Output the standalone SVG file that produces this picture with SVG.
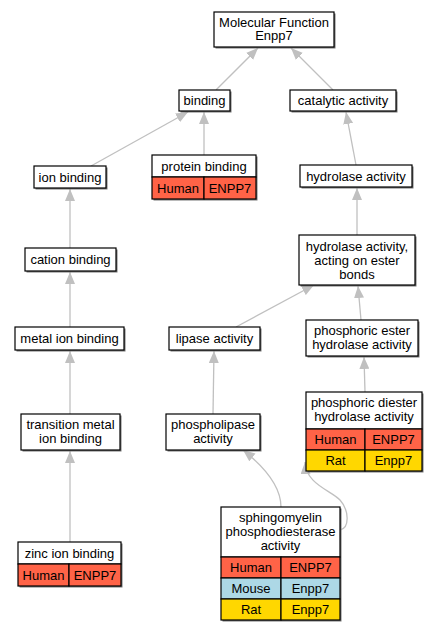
<svg xmlns="http://www.w3.org/2000/svg" width="437" height="632" viewBox="0 0 437 632">
<style>
text{font-family:"Liberation Sans",Arial,sans-serif;font-size:13px;fill:#000;text-anchor:middle}
.b{fill:#fff;stroke:#000;stroke-width:1.2}
.s{fill:#777;stroke:none}
.h{fill:#ff6347;stroke:#000;stroke-width:1.2}
.m{fill:#add8e6;stroke:#000;stroke-width:1.2}
.r{fill:#ffd700;stroke:#000;stroke-width:1.2}
.e{fill:none;stroke:#c0c0c0;stroke-width:1.3;marker-end:url(#a)}
</style>
<defs>
<marker id="a" viewBox="0 0 12 10" refX="12" refY="5" markerWidth="12" markerHeight="10" markerUnits="userSpaceOnUse" orient="auto"><path d="M0,0 L12,5 L0,10 z" fill="#c0c0c0"/></marker>
</defs>
<g id="edges">
<path class="e" d="M216,90 L258,48"/>
<path class="e" d="M333,90 L291,48"/>
<path class="e" d="M91,166 L188,112"/>
<path class="e" d="M204,155 L204,112"/>
<path class="e" d="M356,165 L346,112"/>
<path class="e" d="M70,248 L70,189"/>
<path class="e" d="M70,327 L70,272"/>
<path class="e" d="M70,414 L70,351"/>
<path class="e" d="M70,542 L70,451"/>
<path class="e" d="M357,235 L357,188"/>
<path class="e" d="M236,327 L314,285"/>
<path class="e" d="M361,320 L358,286"/>
<path class="e" d="M365,392 L364,357"/>
<path class="e" d="M213,414 L214,351"/>
<path class="e" d="M281,507 C281,485 262,465 243,450"/>
<path class="e" d="M340,530 C350,528 349,510 340,500 C330,490 306,484 305,462"/>
</g>
<g id="mf">
<rect class="s" x="215.5" y="13.5" width="120" height="35"/>
<rect class="b" x="214" y="12" width="120" height="35"/>
<text x="274" y="27">Molecular Function</text>
<text x="274" y="40">Enpp7</text>
</g>
<g id="binding">
<rect class="s" x="180.5" y="91.5" width="51" height="21"/>
<rect class="b" x="179" y="90" width="51" height="21"/>
<text x="204.5" y="105">binding</text>
</g>
<g id="catalytic">
<rect class="s" x="291.5" y="91.5" width="106" height="21"/>
<rect class="b" x="290" y="90" width="106" height="21"/>
<text x="343" y="105">catalytic activity</text>
</g>
<g id="ion">
<rect class="s" x="35.5" y="167.5" width="72" height="22"/>
<rect class="b" x="34" y="166" width="72" height="22"/>
<text x="70" y="181.5">ion binding</text>
</g>
<g id="protein">
<rect class="s" x="153.5" y="156.5" width="104" height="44"/>
<rect class="b" x="152" y="155" width="104" height="22"/>
<text x="204" y="170.5">protein binding</text>
<rect class="h" x="152" y="177" width="52" height="22"/>
<rect class="h" x="204" y="177" width="52" height="22"/>
<text x="178" y="192.5">Human</text>
<text x="230" y="192.5">ENPP7</text>
</g>
<g id="hydrolase">
<rect class="s" x="301.5" y="166.5" width="112" height="22"/>
<rect class="b" x="300" y="165" width="112" height="22"/>
<text x="356" y="180.5">hydrolase activity</text>
</g>
<g id="cation">
<rect class="s" x="26.5" y="249.5" width="91" height="23"/>
<rect class="b" x="25" y="248" width="91" height="23"/>
<text x="70.5" y="264">cation binding</text>
</g>
<g id="hydroester">
<rect class="s" x="300.5" y="236.5" width="116" height="50"/>
<rect class="b" x="299" y="235" width="116" height="50"/>
<text x="357" y="250.5">hydrolase activity,</text>
<text x="357" y="264.5">acting on ester</text>
<text x="357" y="278.5">bonds</text>
</g>
<g id="metal">
<rect class="s" x="16.5" y="328.5" width="109" height="23"/>
<rect class="b" x="15" y="327" width="109" height="23"/>
<text x="69.5" y="343">metal ion binding</text>
</g>
<g id="lipase">
<rect class="s" x="170.5" y="328.5" width="91" height="23"/>
<rect class="b" x="169" y="327" width="91" height="23"/>
<text x="214.5" y="343">lipase activity</text>
</g>
<g id="phosester">
<rect class="s" x="307.5" y="321.5" width="112" height="36"/>
<rect class="b" x="306" y="320" width="112" height="36"/>
<text x="362" y="335">phosphoric ester</text>
<text x="362" y="349">hydrolase activity</text>
</g>
<g id="transition">
<rect class="s" x="22.5" y="415.5" width="99" height="36"/>
<rect class="b" x="21" y="414" width="99" height="36"/>
<text x="70.5" y="429">transition metal</text>
<text x="70.5" y="443">ion binding</text>
</g>
<g id="phospholipase">
<rect class="s" x="167.5" y="415.5" width="94" height="36"/>
<rect class="b" x="166" y="414" width="94" height="36"/>
<text x="213" y="429">phospholipase</text>
<text x="213" y="443">activity</text>
</g>
<g id="diester">
<rect class="s" x="307.5" y="393.5" width="116" height="79"/>
<rect class="b" x="306" y="392" width="116" height="37"/>
<text x="364" y="407">phosphoric diester</text>
<text x="364" y="421">hydrolase activity</text>
<rect class="h" x="306" y="429" width="59" height="21"/>
<rect class="h" x="365" y="429" width="57" height="21"/>
<text x="335.5" y="444">Human</text>
<text x="393.5" y="444">ENPP7</text>
<rect class="r" x="306" y="450" width="59" height="21"/>
<rect class="r" x="365" y="450" width="57" height="21"/>
<text x="335.5" y="465">Rat</text>
<text x="393.5" y="465">Enpp7</text>
</g>
<g id="zinc">
<rect class="s" x="19.5" y="543.5" width="103" height="44"/>
<rect class="b" x="18" y="542" width="103" height="22"/>
<text x="69.5" y="557.5">zinc ion binding</text>
<rect class="h" x="18" y="564" width="51" height="22"/>
<rect class="h" x="69" y="564" width="52" height="22"/>
<text x="43.5" y="579.5">Human</text>
<text x="95" y="579.5">ENPP7</text>
</g>
<g id="sphingo">
<rect class="s" x="222.5" y="508.5" width="119" height="113"/>
<rect class="b" x="221" y="507" width="119" height="50"/>
<text x="280.5" y="522">sphingomyelin</text>
<text x="280.5" y="536">phosphodiesterase</text>
<text x="280.5" y="550">activity</text>
<rect class="h" x="221" y="557" width="60" height="21"/>
<rect class="h" x="281" y="557" width="59" height="21"/>
<text x="251" y="572">Human</text>
<text x="310.5" y="572">ENPP7</text>
<rect class="m" x="221" y="578" width="60" height="21"/>
<rect class="m" x="281" y="578" width="59" height="21"/>
<text x="251" y="593">Mouse</text>
<text x="310.5" y="593">Enpp7</text>
<rect class="r" x="221" y="599" width="60" height="21"/>
<rect class="r" x="281" y="599" width="59" height="21"/>
<text x="251" y="614">Rat</text>
<text x="310.5" y="614">Enpp7</text>
</g>
</svg>
